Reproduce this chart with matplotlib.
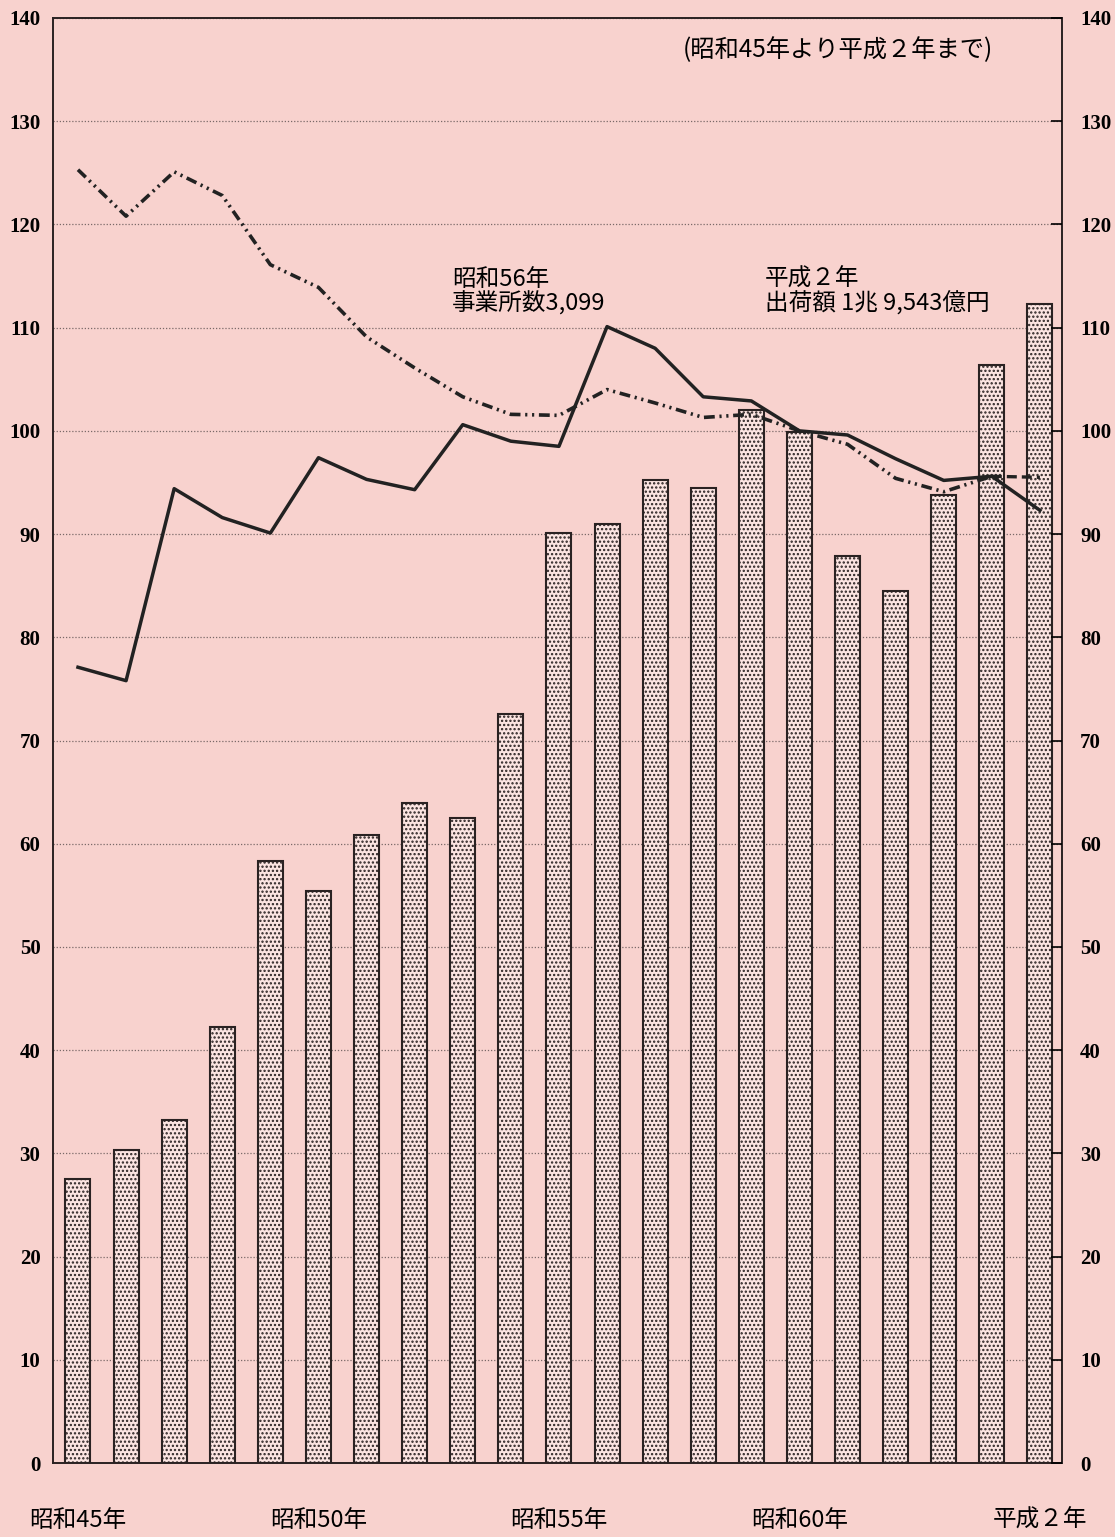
import matplotlib.pyplot as plt
import numpy as np

plt.rcParams['font.family'] = ['Noto Sans CJK JP', 'DejaVu Sans']
plt.rcParams['hatch.linewidth'] = 1.1
plt.rcParams['hatch.color'] = '#6a5a58'

# 昭和45年 .. 平成2年 (21 years)
years = ['昭和45年', '', '', '', '', '昭和50年', '', '', '', '', '昭和55年',
         '', '', '', '', '昭和60年', '', '', '', '', '平成２年']
# 出荷額 index (bars)
shipments = [27.5, 30.3, 33.2, 42.2, 58.3, 55.4, 60.8, 63.9, 62.5, 72.6, 90.1,
             91.0, 95.2, 94.5, 102.0, 99.9, 87.9, 84.5, 93.8, 106.4, 112.3]
# 事業所数 index (solid)
establishments = [77.1, 75.8, 94.4, 91.6, 90.1, 97.4, 95.3, 94.3, 100.6, 99.0, 98.5,
                  110.1, 108.0, 103.3, 102.9, 100.0, 99.6, 97.3, 95.2, 95.6, 92.3]
# dash-dot series
employees = [125.3, 120.8, 125.1, 122.8, 116.1, 113.9, 109.1, 106.1, 103.3, 101.6, 101.5,
             104.0, 102.7, 101.3, 101.6, 100.0, 98.7, 95.4, 94.1, 95.6]
# dashed tail
tail = [95.6, 95.5]

bg = '#f8d2ce'
fig = plt.figure(figsize=(11.15, 15.37), dpi=100, facecolor=bg)
ax = fig.add_axes([0.0475, 0.0481, 0.905, 0.9402])
ax.set_facecolor(bg)

x = np.arange(len(shipments))
ax.bar(x, shipments, width=0.52, color='#fbe4e1', edgecolor='#2a2222',
       linewidth=1.5, hatch='....', zorder=2)

ax.plot(x, establishments, color='#222', lw=2.5, zorder=4)
ax.plot(x[:len(employees)], employees, color='#222', lw=2.6, zorder=4,
        linestyle=(0, (3.0, 1.3, 0.6, 1.3, 0.6, 1.3)))
ax.plot(x[-2:], tail, color='#222', lw=2.4, zorder=4, linestyle=(0, (3, 1.5)))

ax.set_xlim(-0.52, 20.46)
ax.set_ylim(0, 140)
ax.set_yticks(range(0, 141, 10))
ax.yaxis.grid(True, linestyle=(0, (1, 1.5)), color='#7a6a68', lw=0.9)
ax.set_axisbelow(True)

for s in ax.spines.values():
    s.set_linewidth(1.4)
    s.set_color('#2a2222')

tick_font = dict(family='Liberation Serif', weight='bold', size=15)
ax.tick_params(axis='y', length=0, pad=9)
for lab in ax.get_yticklabels():
    lab.set_fontproperties(tick_font)

ax2 = ax.twinx()
ax2.set_ylim(0, 140)
ax2.set_yticks(range(0, 141, 10))
ax2.tick_params(axis='y', direction='in', length=8, width=1.2, pad=13)
for lab in ax2.get_yticklabels():
    lab.set_fontproperties(tick_font)
for s in ax2.spines.values():
    s.set_visible(False)

ax.set_xticks(x)
ax.set_xticklabels(years, fontsize=17)
ax.tick_params(axis='x', length=0, pad=33)

ax.text(12.58, 136.9, '(昭和45年より平成２年まで)', fontsize=17.5, va='center', ha='left')
ax.text(7.77, 115.8, '昭和56年\n事業所数3,099', fontsize=17, va='top', ha='left',
        linespacing=1.05)
ax.text(14.28, 115.8, '平成２年\n出荷額 1兆 9,543億円', fontsize=17, va='top', ha='left',
        linespacing=1.05)

fig.savefig('out.png', dpi=100, facecolor=bg)
